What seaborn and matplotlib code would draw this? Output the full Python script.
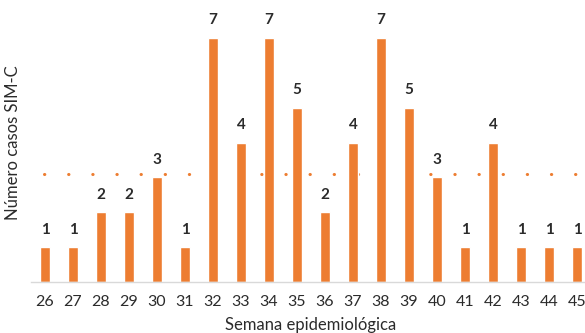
import pandas as pd
import seaborn as sns
import matplotlib
matplotlib.use('Agg')
import matplotlib.pyplot as plt

# data
semanas = ['26', '27', '28', '29', '30', '31', '32', '33', '34', '35',
           '36', '37', '38', '39', '40', '41', '42', '43', '44', '45']
casos = [1, 1, 2, 2, 3, 1, 7, 4, 7, 5, 2, 4, 7, 5, 3, 1, 4, 1, 1, 1]
promedio = 3.1

df = pd.DataFrame({'semana': semanas, 'casos': casos})

sns.set_style('white')
plt.rcParams['font.family'] = ['Lato', 'DejaVu Sans']

orange = '#ed7d31'
txt = '#2b2b2b'
fig = plt.figure(figsize=(5.85, 3.33), dpi=100)
ax = fig.add_axes([31 / 585, 51 / 333, 560 / 585, 279 / 333])

# mean line behind the bars
ax.plot([-0.05, 18.95], [promedio, promedio], color=orange, lw=2.2,
        linestyle=(0, (0.1, 7.8)), dash_capstyle='round', zorder=1)

sns.barplot(data=df, x='semana', y='casos', color=orange, saturation=1,
            width=0.36, ax=ax, zorder=2)

for i, v in enumerate(casos):
    ax.text(i, v + 0.3, str(v), ha='center', va='bottom', fontsize=11,
            fontweight='bold', color=txt)

ax.set_ylim(0, 8)
ax.set_xlim(-0.5, 19.5)
ax.set_yticks([])
ax.set_xlabel('Semana epidemiológica', fontsize=12, color=txt, labelpad=6)
ax.set_ylabel('Número casos SIM-C', fontsize=12, color=txt)
ax.yaxis.set_label_coords(-0.017, 0.5)
ax.tick_params(axis='x', length=0, labelsize=11.5, colors=txt, pad=9)
for s in ['top', 'right', 'left']:
    ax.spines[s].set_visible(False)
ax.spines['bottom'].set_color('#d9d9d9')
ax.spines['bottom'].set_linewidth(1)

fig.savefig('out.png', dpi=100)
